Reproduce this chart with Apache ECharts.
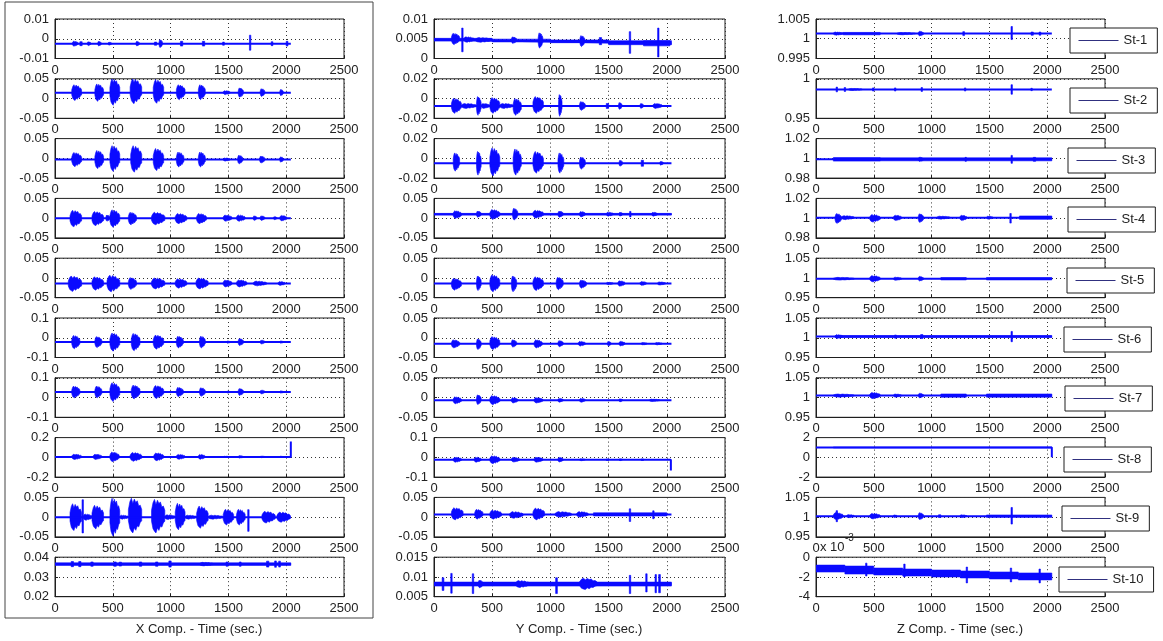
<!DOCTYPE html>
<html>
<head>
<meta charset="utf-8">
<script src="https://cdn.jsdelivr.net/npm/echarts@6/dist/echarts.min.js"></script>
<style>
html,body{margin:0;padding:0;background:#fff;}
#chart{width:1163px;height:641px;}
</style>
</head>
<body>
<div id="chart"></div>
<script>
// ---------- DATA ----------
const stations = ['St-1','St-2','St-3','St-4','St-5','St-6','St-7','St-8','St-9','St-10'];
const componentTitles = ['X Comp. - Time (sec.)','Y Comp. - Time (sec.)','Z Comp. - Time (sec.)'];

// y-axis limits and tick labels
const xYMin = [-0.01,-0.05,-0.05,-0.05,-0.05,-0.1,-0.1,-0.2,-0.05,0.02];
const xYMax = [0.01,0.05,0.05,0.05,0.05,0.1,0.1,0.2,0.05,0.04];
const xYLabels = [['-0.01','0','0.01'],['-0.05','0','0.05'],['-0.05','0','0.05'],['-0.05','0','0.05'],['-0.05','0','0.05'],
  ['-0.1','0','0.1'],['-0.1','0','0.1'],['-0.2','0','0.2'],['-0.05','0','0.05'],['0.02','0.03','0.04']];
const yYMin = [0,-0.02,-0.02,-0.05,-0.05,-0.05,-0.05,-0.1,-0.05,0.005];
const yYMax = [0.01,0.02,0.02,0.05,0.05,0.05,0.05,0.1,0.05,0.015];
const yYLabels = [['0','0.005','0.01'],['-0.02','0','0.02'],['-0.02','0','0.02'],['-0.05','0','0.05'],['-0.05','0','0.05'],
  ['-0.05','0','0.05'],['-0.05','0','0.05'],['-0.1','0','0.1'],['-0.05','0','0.05'],['0.005','0.01','0.015']];
const zYMin = [0.995,0.95,0.98,0.98,0.95,0.95,0.95,-2,0.95,-0.004];
const zYMax = [1.005,1,1.02,1.02,1.05,1.05,1.05,2,1.05,0];
const zYLabels = [['0.995','1','1.005'],['0.95','1'],['0.98','1','1.02'],['0.98','1','1.02'],['0.95','1','1.05'],
  ['0.95','1','1.05'],['0.95','1','1.05'],['-2','0','2'],['0.95','1','1.05'],['-4','-2','0']];

// baseline traces [time, value]
const xSt1Trace = [[0,-0.0025],[2040,-0.0025]];
const xSt2Trace = [[0,0.015],[2040,0.015]];
const xSt3Trace = [[0,-0.003],[2040,-0.003]];
const xSt4Trace = [[0,0],[2040,0]];
const xSt5Trace = [[0,-0.014],[2040,-0.014]];
const xSt6Trace = [[0,-0.022],[2040,-0.022]];
const xSt7Trace = [[0,0.028],[2040,0.028]];
const xSt8Trace = [[0,0.003],[2040,0.003],[2040,0.16]];
const xSt9Trace = [[0,0],[2040,0]];
const xSt10Trace = [[0,0.0365],[2040,0.0365]];

const ySt1Trace = [[0,0.0048],[1000,0.0043],[2040,0.0038]];
const ySt2Trace = [[0,-0.0075],[2040,-0.0075]];
const ySt3Trace = [[0,-0.005],[2040,-0.005]];
const ySt4Trace = [[0,0.01],[2040,0.01]];
const ySt5Trace = [[0,-0.014],[2040,-0.014]];
const ySt6Trace = [[0,-0.015],[2040,-0.015]];
const ySt7Trace = [[0,-0.007],[2040,-0.007]];
const ySt8Trace = [[0,-0.012],[2035,-0.012],[2035,-0.067]];
const ySt9Trace = [[0,0.007],[2040,0.007]];
const ySt10Trace = [[0,0.0082],[2040,0.0082]];

const zSt1Trace = [[0,1.0013],[2040,1.0013]];
const zSt2Trace = [[0,0.9865],[2040,0.9865]];
const zSt3Trace = [[0,0.999],[2040,0.999]];
const zSt4Trace = [[0,1.0005],[2040,1.0005]];
const zSt5Trace = [[0,0.998],[2040,0.998]];
const zSt6Trace = [[0,1.003],[2040,1.003]];
const zSt7Trace = [[0,1.005],[2040,1.005]];
const zSt8Trace = [[0,1],[2040,1],[2040,0]];
const zSt9Trace = [[0,1.0025],[2040,1.0025]];
const zSt10Trace = [[0,-0.00115],[500,-0.0014],[1000,-0.00157],[1500,-0.00173],[2040,-0.0019]];

// wave bursts [tStart, tEnd, high, low]
const xSt1Events = [[150,200,-0.0012,-0.0038],[215,235,-0.0015,-0.0035],[280,310,-0.0015,-0.0035],[370,400,-0.0013,-0.0037],
  [460,490,-0.0017,-0.0033],[700,730,-0.0013,-0.0037],[860,880,-0.0017,-0.0033],[900,930,-0.0005,-0.0045],
  [1085,1105,-0.0013,-0.0037],[1275,1295,-0.0013,-0.0037],[1450,1465,-0.0017,-0.0033],[1683,1693,0.0018,-0.0058],
  [1870,1885,-0.0015,-0.0035],[2000,2015,-0.0013,-0.0037]];
const xSt2Events = [[145,230,0.035,-0.005],[345,420,0.037,-0.007],[475,560,0.05,-0.017],[650,750,0.05,-0.013],
  [850,940,0.048,-0.012],[1050,1125,0.035,-0.003],[1240,1300,0.035,-0.003],[1455,1515,0.02,0.01],
  [1585,1630,0.027,0.003],[1775,1815,0.025,0.005],[1945,1975,0.023,0.007]];
const xSt3Events = [[145,230,0.015,-0.021],[345,420,0.02,-0.026],[475,560,0.032,-0.033],[655,750,0.032,-0.035],
  [850,940,0.025,-0.031],[1050,1115,0.016,-0.022],[1240,1300,0.016,-0.022],[1455,1515,0.001,-0.007],
  [1580,1625,0.008,-0.014],[1770,1815,0.006,-0.012],[1945,1975,0.004,-0.01]];
const xSt4Events = [[130,230,0.02,-0.022],[320,420,0.017,-0.019],[440,475,0.008,-0.008],[475,560,0.021,-0.023],
  [635,705,0.015,-0.017],[835,950,0.015,-0.017],[1040,1140,0.012,-0.014],[1225,1310,0.012,-0.014],
  [1455,1530,0.008,-0.008],[1570,1645,0.008,-0.008],[1715,1745,0.006,-0.006],[1775,1815,0.006,-0.006],
  [1890,1920,0.004,-0.004],[1945,2005,0.007,-0.007]];
const xSt5Events = [[115,230,0.005,-0.034],[320,420,0.003,-0.031],[450,560,0.007,-0.035],[635,705,0.001,-0.029],
  [835,950,0.0,-0.028],[1040,1140,-0.002,-0.026],[1220,1325,0.0,-0.028],[1455,1530,-0.005,-0.023],
  [1570,1660,-0.005,-0.023],[1715,1830,-0.008,-0.02],[1930,1990,-0.009,-0.019]];
const xSt6Events = [[145,215,0.012,-0.056],[345,405,0.006,-0.05],[475,560,0.024,-0.068],[660,735,0.022,-0.066],
  [850,940,0.014,-0.058],[1050,1110,0.008,-0.052],[1250,1300,0.008,-0.052],[1485,1515,-0.016,-0.028],
  [1585,1630,-0.004,-0.04],[1775,1815,-0.012,-0.032],[1945,1975,-0.016,-0.028]];
const xSt7Events = [[145,215,0.058,-0.002],[345,405,0.058,-0.002],[475,560,0.075,-0.02],[660,735,0.063,-0.007],
  [850,940,0.061,-0.005],[1050,1110,0.052,0.004],[1250,1300,0.05,0.006],[1485,1515,0.033,0.023],
  [1585,1630,0.046,0.01],[1775,1815,0.038,0.018],[1945,1975,0.034,0.022]];
const xSt8Events = [[145,230,0.032,-0.022],[330,405,0.032,-0.022],[475,555,0.055,-0.045],[650,750,0.05,-0.04],
  [855,940,0.045,-0.035],[1050,1125,0.03,-0.02],[1240,1300,0.03,-0.02],[1455,1515,0.011,-0.001],
  [1585,1630,0.018,-0.008],[1775,1815,0.013,-0.003],[1945,1975,0.011,-0.001]];
const xSt9Events = [[130,230,0.034,-0.034],[236,244,0.044,-0.04],[245,320,0.008,-0.008],[320,420,0.03,-0.03],
  [475,560,0.048,-0.048],[560,635,0.005,-0.005],[635,750,0.048,-0.04],[835,950,0.045,-0.04],[950,1040,0.006,-0.006],
  [1040,1125,0.035,-0.032],[1125,1225,0.005,-0.005],[1225,1325,0.028,-0.028],[1325,1455,0.005,-0.005],
  [1455,1545,0.02,-0.02],[1570,1645,0.02,-0.02],[1670,1676,0.019,-0.036],[1790,1905,0.015,-0.015],[1920,2035,0.013,-0.013]];
const xSt10Events = [[0,2040,0.03715,0.03585],[140,160,0.0378,0.0352],[205,225,0.0378,0.0352],[310,330,0.0376,0.0354],
  [510,530,0.0376,0.0354],[555,575,0.0375,0.0355],[730,750,0.0376,0.0354],[870,890,0.0376,0.0354],
  [985,1005,0.0381,0.035],[1250,1370,0.0374,0.0356],[1480,1495,0.0376,0.0354],[1595,1610,0.0376,0.0354],
  [1830,1850,0.038,0.035],[1900,1915,0.0381,0.0349],[1935,1950,0.038,0.035]];

const ySt1Events = [[0,500,0.0051,0.0044],[500,1000,0.0049,0.0042],[1000,1500,0.0047,0.004],[1500,2040,0.0045,0.0035],
  [150,220,0.0064,0.0035],[240,248,0.0077,0.0017],[255,345,0.0055,0.0041],[355,500,0.0053,0.0041],
  [665,710,0.0055,0.0038],[895,935,0.0065,0.0026],[1253,1296,0.0058,0.003],[1420,1440,0.0053,0.0035],
  [1680,1687,0.0068,0.0013],[1800,2027,0.0045,0.0032],[1924,1930,0.0077,0.0004]];
const ySt2Events = [[150,235,0.0003,-0.015],[235,365,-0.005,-0.01],[365,405,0.002,-0.017],[405,480,-0.005,-0.01],
  [480,565,0.001,-0.015],[565,680,-0.005,-0.01],[680,750,0.0,-0.017],[850,940,0.002,-0.015],[1070,1100,0.004,-0.018],
  [1250,1300,-0.003,-0.012],[1480,1500,-0.005,-0.01],[1585,1615,-0.004,-0.011],[1770,1800,-0.005,-0.01],[1880,1960,-0.005,-0.01]];
const ySt3Events = [[165,220,0.0055,-0.013],[365,405,0.007,-0.017],[480,565,0.0106,-0.0178],[680,750,0.0095,-0.017],
  [850,940,0.007,-0.015],[1065,1115,0.0055,-0.015],[1250,1300,0.0014,-0.011],[1590,1620,-0.002,-0.008],
  [1780,1800,-0.002,-0.008],[1940,1970,-0.003,-0.007]];
const ySt4Events = [[0,2040,0.012,0.008],[165,235,0.019,-0.001],[365,405,0.018,0.002],[480,565,0.022,-0.003],
  [675,720,0.025,-0.005],[850,940,0.02,0.0],[1065,1110,0.018,0.002],[1250,1300,0.017,0.003],[1480,1540,0.015,0.005],
  [1590,1620,0.015,0.005],[1683,1690,0.017,0.003],[1870,1920,0.015,0.005]];
const ySt5Events = [[150,235,-0.001,-0.031],[365,405,0.005,-0.032],[480,565,0.008,-0.035],[665,710,0.005,-0.035],
  [850,940,0.003,-0.032],[1050,1110,0.002,-0.03],[1250,1310,-0.005,-0.026],[1480,1540,-0.011,-0.017],
  [1580,1640,-0.007,-0.021],[1770,1825,-0.009,-0.019],[1920,1990,-0.01,-0.018]];
const ySt6Events = [[150,220,-0.005,-0.026],[365,405,-0.003,-0.03],[480,565,0.003,-0.03],[665,710,-0.005,-0.024],
  [860,930,-0.005,-0.026],[1065,1110,-0.007,-0.023],[1240,1300,-0.009,-0.021],[1490,1520,-0.009,-0.021],
  [1590,1640,-0.009,-0.021],[1780,1830,-0.012,-0.018],[1900,1960,-0.012,-0.018]];
const ySt7Events = [[165,235,0.002,-0.016],[365,405,0.007,-0.018],[480,565,0.005,-0.018],[665,720,0.0,-0.014],
  [860,935,0.0,-0.014],[1065,1110,-0.002,-0.012],[1250,1300,-0.002,-0.012],[1590,1620,-0.003,-0.011],[1850,1940,-0.004,-0.01]];
const ySt8Events = [[165,235,0.001,-0.025],[345,405,0.001,-0.025],[480,565,0.008,-0.032],[665,735,0.0,-0.024],
  [860,935,0.001,-0.025],[1065,1110,0.0,-0.024],[1250,1300,-0.007,-0.017],[1480,1500,-0.008,-0.016],
  [1590,1620,-0.007,-0.017],[1780,1800,-0.008,-0.016]];
const ySt9Events = [[150,250,0.024,-0.007],[350,420,0.02,-0.005],[480,580,0.018,-0.005],[650,765,0.014,-0.003],
  [850,950,0.023,-0.007],[1040,1180,0.014,0.0],[1225,1325,0.014,0.0],[1370,2000,0.011,0.003],
  [1680,1687,0.021,-0.011],[1880,1890,0.016,-0.004]];
const ySt10Events = [[0,2040,0.0087,0.0077],[70,85,0.0098,0.0066],[145,155,0.0109,0.0059],[330,340,0.0108,0.0058],
  [380,420,0.0092,0.0072],[700,820,0.0091,0.0073],[1045,1060,0.0098,0.0058],[1250,1400,0.0097,0.0068],
  [1680,1688,0.0104,0.0058],[1820,1830,0.0108,0.0062],[1900,1910,0.0106,0.006],[1930,1945,0.0106,0.006]];

const zSt1Events = [[150,235,1.0017,1.0009],[235,555,1.0016,1.001],[700,860,1.0016,1.001],[885,930,1.0019,1.0007],
  [1270,1285,1.0018,1.0008],[1690,1696,1.0031,0.9998],[1860,1880,1.0017,1.0009],[1930,1945,1.0017,1.0009]];
const zSt2Events = [[175,185,0.9895,0.9835],[245,255,0.989,0.984],[280,400,0.9878,0.9852],[490,500,0.9885,0.9845],
  [680,690,0.9885,0.9845],[910,920,0.989,0.984],[1285,1295,0.9885,0.9845],[1690,1696,0.9925,0.9805],[1860,1870,0.988,0.985]];
const zSt3Events = [[150,555,1.0008,0.9972],[555,2040,1.0005,0.9975],[885,930,1.0012,0.9968],[1290,1300,1.001,0.997],
  [1690,1696,1.003,0.995],[1880,1900,1.001,0.997]];
const zSt4Events = [[165,220,1.0047,0.9946],[220,330,1.0025,0.9985],[465,555,1.0037,0.996],[670,740,1.003,0.9975],
  [885,930,1.0045,0.9955],[1045,1160,1.002,0.999],[1245,1305,1.003,0.9975],[1475,1530,1.002,0.999],
  [1680,1686,1.0047,0.995],[1760,2040,1.0022,0.9988]];
const zSt5Events = [[150,330,1.0015,0.9945],[465,555,1.006,0.99],[670,740,1.002,0.994],[885,930,1.004,0.992],
  [1080,1300,1.001,0.995],[1475,2040,1.001,0.995]];
const zSt6Events = [[170,2040,1.0055,1.0005],[165,230,1.008,0.998],[680,695,1.007,0.999],[905,925,1.008,0.998],[1690,1696,1.016,0.99]];
const zSt7Events = [[150,330,1.009,1.001],[465,555,1.013,0.997],[670,740,1.009,1.001],[885,930,1.011,0.999],
  [1080,1300,1.009,1.001],[1475,2040,1.009,1.001]];
const zSt8Events = [[150,2040,1.04,0.96]];
const zSt9Events = [[150,235,1.0115,0.9935],[175,185,1.0165,0.9885],[265,330,1.0065,0.9985],[465,555,1.0095,0.9955],
  [670,700,1.006,0.999],[885,930,1.0115,0.9935],[1060,1080,1.006,0.999],[1245,1305,1.006,0.999],
  [1475,2040,1.0055,0.9995],[1690,1696,1.0245,0.9825]];
const zSt10Events = [[0,250,-0.0008,-0.0015],[250,500,-0.0009,-0.0017],[500,750,-0.0011,-0.0018],[750,1000,-0.0012,-0.0019],
  [1000,1250,-0.0013,-0.002],[1250,1500,-0.0014,-0.0021],[1500,1750,-0.0015,-0.0022],[1750,2040,-0.0016,-0.0023],
  [430,440,-0.0006,-0.0019],[760,770,-0.0007,-0.002],[1300,1310,-0.001,-0.0026],[1683,1690,-0.0011,-0.0025],[1930,1940,-0.0012,-0.0026]];

// ---------- LAYOUT / STYLE ----------
const colLeft = [55, 434, 816];
const colWidth = [289, 291, 289];
const rowTop0 = 19, rowPitch = 59.8, rowHeight = 39.5;
const legendPos = [[1070,28],[1070,88],[1068,148],[1068,207],[1067,268],[1064,327],[1065,386],[1064,447],[1062,506],[1059,567]];
const BLUE = '#0a0aff';
const INK = '#1e1e1e';
// glyph outline used to draw a wave packet (fractions of its half-height, left to right)
const glyphTop = [0.35, 0.8, 1.0, 0.7, 0.95, 0.75, 0.85, 0.55, 0.6, 0.35];
const glyphBottom = [0.3, 0.75, 0.9, 1.0, 0.7, 0.85, 0.6, 0.65, 0.4, 0.3];

const columns = [
  {min:xYMin, max:xYMax, labels:xYLabels,
   traces:[xSt1Trace,xSt2Trace,xSt3Trace,xSt4Trace,xSt5Trace,xSt6Trace,xSt7Trace,xSt8Trace,xSt9Trace,xSt10Trace],
   events:[xSt1Events,xSt2Events,xSt3Events,xSt4Events,xSt5Events,xSt6Events,xSt7Events,xSt8Events,xSt9Events,xSt10Events]},
  {min:yYMin, max:yYMax, labels:yYLabels,
   traces:[ySt1Trace,ySt2Trace,ySt3Trace,ySt4Trace,ySt5Trace,ySt6Trace,ySt7Trace,ySt8Trace,ySt9Trace,ySt10Trace],
   events:[ySt1Events,ySt2Events,ySt3Events,ySt4Events,ySt5Events,ySt6Events,ySt7Events,ySt8Events,ySt9Events,ySt10Events]},
  {min:zYMin, max:zYMax, labels:zYLabels,
   traces:[zSt1Trace,zSt2Trace,zSt3Trace,zSt4Trace,zSt5Trace,zSt6Trace,zSt7Trace,zSt8Trace,zSt9Trace,zSt10Trace],
   events:[zSt1Events,zSt2Events,zSt3Events,zSt4Events,zSt5Events,zSt6Events,zSt7Events,zSt8Events,zSt9Events,zSt10Events]}
];

function renderBurst(params, api) {
  const t0 = api.value(0), t1 = api.value(1);
  const a = api.coord([t0, api.value(2)]);
  const b = api.coord([t1, api.value(3)]);
  let x0 = a[0], x1 = b[0], yt = a[1], yb = b[1];
  if (x1 - x0 < 1.4) { const c = (x0 + x1) / 2; x0 = c - 0.7; x1 = c + 0.7; }
  if (yb - yt < 1) { const m = (yt + yb) / 2; yt = m - 0.5; yb = m + 0.5; }
  const ym = (yt + yb) / 2, w = x1 - x0, hu = ym - yt, hd = yb - ym;
  let pts;
  if (t1 - t0 > 200 || w < 2.5) {
    pts = [[x0,yt],[x1,yt],[x1,yb],[x0,yb]];
  } else {
    pts = [];
    const n = glyphTop.length;
    for (let i = 0; i < n; i++) pts.push([x0 + w * i / (n - 1), ym - hu * glyphTop[i]]);
    for (let i = n - 1; i >= 0; i--) pts.push([x0 + w * i / (n - 1), ym + hd * glyphBottom[i]]);
  }
  return {type:'polygon', shape:{points:pts}, style:{fill:BLUE, stroke:BLUE, lineWidth:0.6}};
}

const FONT = 'Liberation Sans, Arial, Helvetica, sans-serif';
const grid = [], xAxis = [], yAxis = [], series = [], legend = [];
columns.forEach((col, c) => {
  for (let r = 0; r < 10; r++) {
    const idx = grid.length;
    grid.push({left: colLeft[c], width: colWidth[c], top: rowTop0 + r * rowPitch, height: rowHeight,
      show: true, borderColor: INK, borderWidth: 1, backgroundColor: '#fff'});
    xAxis.push({gridIndex: idx, type: 'value', min: 0, max: 2500, interval: 500,
      axisLine: {show: true, onZero: false, lineStyle: {color: INK, width: 1}},
      axisTick: {show: true, inside: true, length: 3, lineStyle: {color: INK}},
      axisLabel: {fontSize: 13, color: '#222', margin: 5, fontFamily: FONT, showMinLabel: true, showMaxLabel: true,
        formatter: v => String(Math.round(v))},
      splitLine: {show: true, lineStyle: {type: [1, 3], color: '#333', width: 1}}});
    const mn = col.min[r], mx = col.max[r], labs = col.labels[r];
    const iv = (mx - mn) / (labs.length - 1);
    yAxis.push({gridIndex: idx, type: 'value', min: mn, max: mx, interval: iv,
      axisLine: {show: true, onZero: false, lineStyle: {color: INK, width: 1}},
      axisTick: {show: true, inside: true, length: 3, lineStyle: {color: INK}},
      axisLabel: {fontSize: 13, color: '#222', margin: 6, fontFamily: FONT, showMinLabel: true, showMaxLabel: true,
        formatter: v => { const k = Math.round((v - mn) / iv); return labs[k] !== undefined ? labs[k] : ''; }},
      splitLine: {show: true, lineStyle: {type: [1, 3], color: '#333', width: 1}}});
    series.push({type: 'line', name: c === 2 ? stations[r] : ('trace' + idx), xAxisIndex: idx, yAxisIndex: idx,
      data: col.traces[r], symbol: 'none', silent: true, animation: false,
      lineStyle: {color: BLUE, width: 2}, itemStyle: {color: BLUE}, z: 3});
    series.push({type: 'custom', xAxisIndex: idx, yAxisIndex: idx, data: col.events[r],
      encode: {x: [0, 1], y: [2, 3]}, renderItem: renderBurst, clip: true, silent: true, animation: false, z: 3});
    if (c === 2) {
      legend.push({data: [stations[r]], left: legendPos[r][0], top: legendPos[r][1], orient: 'horizontal',
        backgroundColor: '#fff', borderColor: INK, borderWidth: 1, borderRadius: 0,
        padding: [6, 10, 6, 8], itemWidth: 40, itemHeight: 14, selectedMode: false,
        lineStyle: {color: '#30307f', width: 1}, itemStyle: {opacity: 0},
        textStyle: {fontSize: 13, color: '#222', fontFamily: FONT}});
    }
  }
});

const graphic = [
  {type: 'rect', silent: true, shape: {x: 5, y: 2, width: 368, height: 616}, style: {fill: 'none', stroke: '#444', lineWidth: 1}},
  {type: 'text', silent: true, x: 199, y: 629, style: {text: componentTitles[0], font: '13px ' + FONT, fill: '#222', align: 'center', verticalAlign: 'middle'}},
  {type: 'text', silent: true, x: 579, y: 629, style: {text: componentTitles[1], font: '13px ' + FONT, fill: '#222', align: 'center', verticalAlign: 'middle'}},
  {type: 'text', silent: true, x: 960, y: 629, style: {text: componentTitles[2], font: '13px ' + FONT, fill: '#222', align: 'center', verticalAlign: 'middle'}},
  {type: 'text', silent: true, x: 820, y: 547, style: {text: 'x 10', font: '13px ' + FONT, fill: '#222', align: 'left', verticalAlign: 'middle'}},
  {type: 'text', silent: true, x: 845, y: 538, style: {text: '-3', font: '10px ' + FONT, fill: '#222', align: 'left', verticalAlign: 'middle'}}
];

const chart = echarts.init(document.getElementById('chart'), null, {renderer: 'canvas'});
chart.setOption({backgroundColor: '#fff', animation: false, grid, xAxis, yAxis, series, legend, graphic});
</script>
</body>
</html>
